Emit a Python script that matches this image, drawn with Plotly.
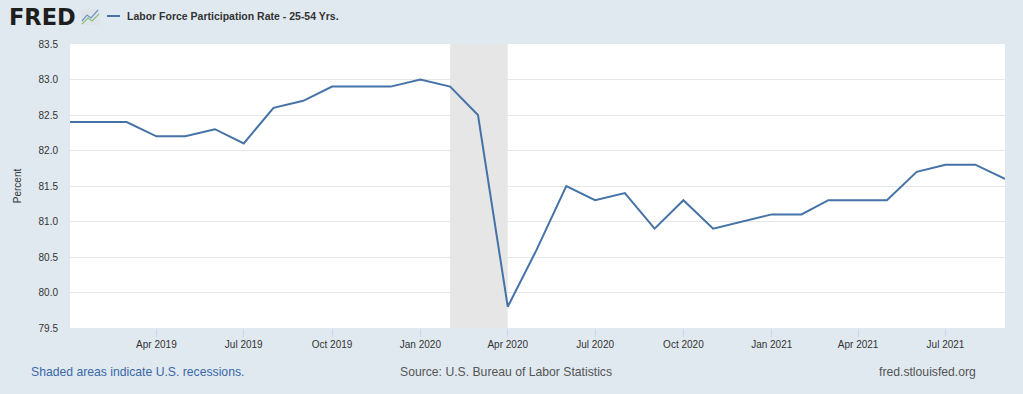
import plotly.graph_objects as go

months = ["2019-01","2019-02","2019-03","2019-04","2019-05","2019-06","2019-07","2019-08","2019-09","2019-10","2019-11","2019-12",
          "2020-01","2020-02","2020-03","2020-04","2020-05","2020-06","2020-07","2020-08","2020-09","2020-10","2020-11","2020-12",
          "2021-01","2021-02","2021-03","2021-04","2021-05","2021-06","2021-07","2021-08","2021-09"]
lfpr = [82.4,82.4,82.4,82.2,82.2,82.3,82.1,82.6,82.7,82.9,82.9,82.9,
        83.0,82.9,82.5,79.8,80.6,81.5,81.3,81.4,80.9,81.3,80.9,81.0,
        81.1,81.1,81.3,81.3,81.3,81.7,81.8,81.8,81.6]
dates = [m + "-01" for m in months]
recession = ("2020-02-01", "2020-04-01")
tick_dates = ["2019-04-01","2019-07-01","2019-10-01","2020-01-01","2020-04-01","2020-07-01",
              "2020-10-01","2021-01-01","2021-04-01","2021-07-01"]
y_ticks = [79.5,80.0,80.5,81.0,81.5,82.0,82.5,83.0,83.5]
series_name = "Labor Force Participation Rate - 25-54 Yrs."

W, H = 1023, 394
L, R, T, B = 70, 18, 44, 66
PW, PH = W - L - R, H - T - B
def px(x): return (x - L) / PW
def py(y): return (H - B - y) / PH

FONT = "Liberation Sans, Arial, sans-serif"
LINE = "#4572a7"

fig = go.Figure()
fig.add_trace(go.Scatter(x=dates, y=lfpr, mode="lines", name=series_name,
                         line=dict(color=LINE, width=2), showlegend=False, hoverinfo="skip"))

fig.add_vrect(x0=recession[0], x1=recession[1], fillcolor="#e6e6e6", opacity=1,
              line_width=0, layer="below")

fig.update_layout(
    width=W, height=H, autosize=False,
    margin=dict(l=L, r=R, t=T, b=B),
    paper_bgcolor="#e1e9f0", plot_bgcolor="#ffffff",
    font=dict(family=FONT, color="#333333", size=10),
    xaxis=dict(range=[dates[0], dates[-1]], tickvals=tick_dates, tickformat="%b %Y",
               showgrid=False, zeroline=False, ticks="outside", ticklen=8,
               tickcolor="#ccd6eb", tickfont=dict(size=10, color="#333333"),
               ticklabelstandoff=-1, showline=False, automargin=False),
    yaxis=dict(range=[79.5, 83.5], tickvals=y_ticks, tickformat=".1f",
               gridcolor="#e6e6e6", gridwidth=1, zeroline=False, showline=False,
               tickfont=dict(size=10, color="#333333"), ticks="", ticklabelstandoff=11,
               automargin=False,
               title=dict(text="Percent", font=dict(size=10, color="#333333"), standoff=15)),
)

# Legend (line sample + bold text)
fig.add_shape(type="line", xref="paper", yref="paper",
              x0=px(107), x1=px(120), y0=py(16), y1=py(16),
              line=dict(color=LINE, width=2))
fig.add_annotation(xref="paper", yref="paper", x=px(125), y=py(16), text="<b>" + series_name + "</b>",
                   showarrow=False, xanchor="left", yanchor="middle",
                   font=dict(size=10.5, color="#333333", family=FONT))

# FRED logo
fig.add_annotation(xref="paper", yref="paper", x=px(7), y=py(17), text="<b>FRED</b>",
                   showarrow=False, xanchor="left", yanchor="middle",
                   font=dict(size=22.5, color="#1e1e1e", family="DejaVu Sans, sans-serif"))
fig.add_shape(type="rect", xref="paper", yref="paper", x0=px(81), x1=px(100), y0=py(25), y1=py(9),
              fillcolor="#dfe4ea", line=dict(width=0))
fig.add_shape(type="path", xref="paper", yref="paper",
              path=f"M {px(82)},{py(21)} L {px(87)},{py(15)} L {px(91)},{py(18)} L {px(98)},{py(10)}",
              line=dict(color="#6f95c8", width=1.2))
fig.add_shape(type="path", xref="paper", yref="paper",
              path=f"M {px(82)},{py(24)} L {px(88)},{py(18)} L {px(92)},{py(21)} L {px(99)},{py(14)}",
              line=dict(color="#8cc07a", width=1.2))

# Footer
fig.add_annotation(xref="paper", yref="paper", x=px(29), y=py(372), text="Shaded areas indicate U.S. recessions.",
                   showarrow=False, xanchor="left", yanchor="middle",
                   font=dict(size=12.2, color="#3a68a8", family=FONT))
fig.add_annotation(xref="paper", yref="paper", x=px(506), y=py(372), text="Source: U.S. Bureau of Labor Statistics",
                   showarrow=False, xanchor="center", yanchor="middle",
                   font=dict(size=12.2, color="#555555", family=FONT))
fig.add_annotation(xref="paper", yref="paper", x=px(978), y=py(372), text="fred.stlouisfed.org",
                   showarrow=False, xanchor="right", yanchor="middle",
                   font=dict(size=12.2, color="#555555", family=FONT))

fig.write_html("out.html", config={"responsive": False, "displayModeBar": False},
               post_script="document.body.style.margin='0';document.body.style.overflow='hidden';")
